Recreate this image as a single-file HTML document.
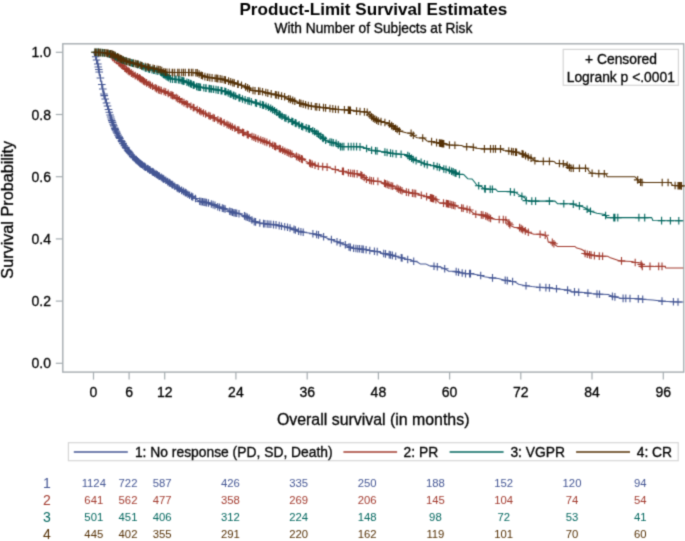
<!DOCTYPE html>
<html><head><meta charset="utf-8"><style>html,body{margin:0;padding:0;background:#fff;width:685px;height:541px;overflow:hidden}svg{display:block}</style></head>
<body><svg width="685" height="541" viewBox="0 0 685 541"><defs><filter id="bl" filterUnits="userSpaceOnUse" x="-10" y="-10" width="705" height="561" color-interpolation-filters="sRGB"><feConvolveMatrix order="3" kernelMatrix="0.02768 0.11101 0.02768 0.11101 0.44521 0.11101 0.02768 0.11101 0.02768" edgeMode="duplicate" preserveAlpha="true"/></filter></defs><g filter="url(#bl)"><rect x="-10" y="-10" width="705" height="561" fill="#fff"/><text x="373.4" y="14.8" font-family="Liberation Sans, sans-serif" font-size="17.1" font-weight="bold" text-anchor="middle" fill="#000">Product-Limit Survival Estimates</text><text x="373.4" y="32.8" font-family="Liberation Sans, sans-serif" font-size="13.75" text-anchor="middle" fill="#000" stroke="#000" stroke-width="0.3">With Number of Subjects at Risk</text><rect x="62.8" y="43.8" width="621.0" height="328.3" fill="none" stroke="#a5acb0" stroke-width="1.4"/><line x1="55.8" x2="62.8" y1="363.3" y2="363.3" stroke="#a5acb0" stroke-width="1.2"/><text x="51" y="368.3" font-family="Liberation Sans, sans-serif" font-size="14" text-anchor="end" fill="#000" stroke="#000" stroke-width="0.3">0.0</text><line x1="55.8" x2="62.8" y1="301.1" y2="301.1" stroke="#a5acb0" stroke-width="1.2"/><text x="51" y="306.1" font-family="Liberation Sans, sans-serif" font-size="14" text-anchor="end" fill="#000" stroke="#000" stroke-width="0.3">0.2</text><line x1="55.8" x2="62.8" y1="238.9" y2="238.9" stroke="#a5acb0" stroke-width="1.2"/><text x="51" y="243.9" font-family="Liberation Sans, sans-serif" font-size="14" text-anchor="end" fill="#000" stroke="#000" stroke-width="0.3">0.4</text><line x1="55.8" x2="62.8" y1="176.7" y2="176.7" stroke="#a5acb0" stroke-width="1.2"/><text x="51" y="181.7" font-family="Liberation Sans, sans-serif" font-size="14" text-anchor="end" fill="#000" stroke="#000" stroke-width="0.3">0.6</text><line x1="55.8" x2="62.8" y1="114.5" y2="114.5" stroke="#a5acb0" stroke-width="1.2"/><text x="51" y="119.5" font-family="Liberation Sans, sans-serif" font-size="14" text-anchor="end" fill="#000" stroke="#000" stroke-width="0.3">0.8</text><line x1="55.8" x2="62.8" y1="52.3" y2="52.3" stroke="#a5acb0" stroke-width="1.2"/><text x="51" y="57.3" font-family="Liberation Sans, sans-serif" font-size="14" text-anchor="end" fill="#000" stroke="#000" stroke-width="0.3">1.0</text><line x1="93.5" x2="93.5" y1="372.1" y2="379.6" stroke="#a5acb0" stroke-width="1.2"/><text x="93.5" y="397.2" font-family="Liberation Sans, sans-serif" font-size="14" text-anchor="middle" fill="#000" stroke="#000" stroke-width="0.3">0</text><line x1="129.1" x2="129.1" y1="372.1" y2="379.6" stroke="#a5acb0" stroke-width="1.2"/><text x="129.1" y="397.2" font-family="Liberation Sans, sans-serif" font-size="14" text-anchor="middle" fill="#000" stroke="#000" stroke-width="0.3">6</text><line x1="164.7" x2="164.7" y1="372.1" y2="379.6" stroke="#a5acb0" stroke-width="1.2"/><text x="164.7" y="397.2" font-family="Liberation Sans, sans-serif" font-size="14" text-anchor="middle" fill="#000" stroke="#000" stroke-width="0.3">12</text><line x1="235.9" x2="235.9" y1="372.1" y2="379.6" stroke="#a5acb0" stroke-width="1.2"/><text x="235.9" y="397.2" font-family="Liberation Sans, sans-serif" font-size="14" text-anchor="middle" fill="#000" stroke="#000" stroke-width="0.3">24</text><line x1="307.2" x2="307.2" y1="372.1" y2="379.6" stroke="#a5acb0" stroke-width="1.2"/><text x="307.2" y="397.2" font-family="Liberation Sans, sans-serif" font-size="14" text-anchor="middle" fill="#000" stroke="#000" stroke-width="0.3">36</text><line x1="378.4" x2="378.4" y1="372.1" y2="379.6" stroke="#a5acb0" stroke-width="1.2"/><text x="378.4" y="397.2" font-family="Liberation Sans, sans-serif" font-size="14" text-anchor="middle" fill="#000" stroke="#000" stroke-width="0.3">48</text><line x1="449.6" x2="449.6" y1="372.1" y2="379.6" stroke="#a5acb0" stroke-width="1.2"/><text x="449.6" y="397.2" font-family="Liberation Sans, sans-serif" font-size="14" text-anchor="middle" fill="#000" stroke="#000" stroke-width="0.3">60</text><line x1="520.8" x2="520.8" y1="372.1" y2="379.6" stroke="#a5acb0" stroke-width="1.2"/><text x="520.8" y="397.2" font-family="Liberation Sans, sans-serif" font-size="14" text-anchor="middle" fill="#000" stroke="#000" stroke-width="0.3">72</text><line x1="592.0" x2="592.0" y1="372.1" y2="379.6" stroke="#a5acb0" stroke-width="1.2"/><text x="592.0" y="397.2" font-family="Liberation Sans, sans-serif" font-size="14" text-anchor="middle" fill="#000" stroke="#000" stroke-width="0.3">84</text><line x1="663.3" x2="663.3" y1="372.1" y2="379.6" stroke="#a5acb0" stroke-width="1.2"/><text x="663.3" y="397.2" font-family="Liberation Sans, sans-serif" font-size="14" text-anchor="middle" fill="#000" stroke="#000" stroke-width="0.3">96</text><text x="373.2" y="425.3" font-family="Liberation Sans, sans-serif" font-size="15.9" text-anchor="middle" fill="#000" stroke="#000" stroke-width="0.3">Overall survival (in months)</text><text transform="translate(12.6,209.8) rotate(-90)" x="0" y="0" font-family="Liberation Sans, sans-serif" font-size="16.2" text-anchor="middle" fill="#000" stroke="#000" stroke-width="0.3">Survival Probability</text><rect x="563.2" y="49.4" width="115.2" height="35.9" fill="#fff" stroke="#d4d4d4" stroke-width="1.2"/><text x="621" y="64" font-family="Liberation Sans, sans-serif" font-size="13.85" text-anchor="middle" fill="#000" stroke="#000" stroke-width="0.3">+ Censored</text><text x="620.8" y="81.7" font-family="Liberation Sans, sans-serif" font-size="13.85" text-anchor="middle" fill="#000" stroke="#000" stroke-width="0.3">Logrank p &lt;.0001</text><polyline points="93.5,52.2 94.6,55.0 95.6,56.5 97.9,64.5 99.6,74.3 101.9,84.9 103.6,93.0 105.5,100.0 107.4,105.5 109.2,112.0 111.1,118.5 113.4,125.0 115.7,130.5 118.5,136.0 120.5,139.5 124.2,145.5 128.9,152.0 133.5,157.3 140.0,163.3 146.4,167.8 153.8,172.6 160.0,176.6 167.7,181.6 177.0,187.8 186.2,193.0 190.0,195.6 194.6,197.9 199.2,201.2 203.9,202.1 208.5,203.0 214.0,204.9 218.7,207.2 224.2,208.6 228.8,210.9 233.4,212.7 239.0,213.7 243.6,215.5 249.6,218.4 254.2,221.6 259.8,223.0 265.3,223.9 271.8,224.4 276.4,224.9 282.0,226.3 287.5,227.2 293.1,229.0 298.6,231.3 304.2,232.4 309.2,232.9 312.9,233.8 318.5,234.9 324.0,236.8 327.7,238.5 331.4,239.6 335.1,240.9 339.7,242.8 344.4,244.2 349.0,247.0 353.6,248.3 360.5,248.9 366.1,249.8 371.6,250.9 377.2,251.6 382.7,253.3 388.3,254.4 393.8,255.8 399.4,257.2 404.9,258.8 410.5,260.1 413.7,261.3 417.4,262.0 420.2,263.9 425.7,263.9 429.4,265.7 434.0,266.2 440.5,267.1 445.1,268.9 448.8,271.3 455.3,271.3 459.9,272.6 465.5,273.6 470.5,273.6 474.2,274.2 479.8,275.2 484.4,276.8 492.7,277.9 498.3,278.5 503.8,280.0 509.4,280.9 514.9,281.9 518.6,284.2 525.5,285.7 532.0,286.6 539.4,287.4 547.7,287.6 553.3,288.5 560.7,289.2 567.1,289.9 571.8,291.7 580.0,292.4 584.2,292.6 590.7,293.5 596.3,294.0 608.3,294.6 612.0,296.3 616.6,297.2 620.3,298.3 635.0,298.6 645.0,299.5 652.6,300.0 663.1,301.2 677.1,302.0 683.3,302.0" fill="none" stroke="#445694" stroke-width="1.05" stroke-linejoin="round"/><path d="M109.9 125.7h7.6M113.7 121.9v7.6M110.9 128.1h7.6M114.7 124.3v7.6M111.4 129.3h7.6M115.2 125.5v7.6M111.8 130.3h7.6M115.6 126.5v7.6M112.6 131.9h7.6M116.4 128.1v7.6M113.3 133.2h7.6M117.1 129.4v7.6M114.2 135.1h7.6M118.0 131.3v7.6M115.1 136.7h7.6M118.9 132.9v7.6M115.3 137.1h7.6M119.1 133.3v7.6M116.1 138.4h7.6M119.9 134.6v7.6M117.5 140.8h7.6M121.3 137.0v7.6M118.0 141.6h7.6M121.8 137.8v7.6M119.1 143.4h7.6M122.9 139.6v7.6M119.3 143.8h7.6M123.1 140.0v7.6M120.5 145.7h7.6M124.3 141.9v7.6M121.7 147.3h7.6M125.5 143.5v7.6M122.3 148.1h7.6M126.1 144.3v7.6M123.8 150.2h7.6M127.6 146.4v7.6M124.7 151.4h7.6M128.5 147.6v7.6M125.0 151.8h7.6M128.8 148.0v7.6M125.9 152.9h7.6M129.7 149.1v7.6M127.4 154.7h7.6M131.2 150.8v7.6M128.9 156.4h7.6M132.7 152.6v7.6M129.4 156.9h7.6M133.2 153.1v7.6M130.4 158.0h7.6M134.2 154.2v7.6M131.9 159.4h7.6M135.7 155.6v7.6M132.5 159.9h7.6M136.3 156.1v7.6M133.6 160.9h7.6M137.4 157.1v7.6M134.7 161.9h7.6M138.5 158.1v7.6M135.8 163.0h7.6M139.6 159.2v7.6M136.6 163.6h7.6M140.4 159.8v7.6M137.6 164.3h7.6M141.4 160.5v7.6M138.7 165.0h7.6M142.5 161.2v7.6M140.1 166.1h7.6M143.9 162.3v7.6M140.9 166.6h7.6M144.7 162.8v7.6M141.8 167.2h7.6M145.6 163.4v7.6M143.7 168.5h7.6M147.5 164.7v7.6M144.5 169.0h7.6M148.3 165.2v7.6M145.8 169.9h7.6M149.6 166.1v7.6M146.4 170.3h7.6M150.2 166.5v7.6M148.3 171.5h7.6M152.1 167.7v7.6M149.2 172.1h7.6M153.0 168.3v7.6M149.6 172.3h7.6M153.4 168.5v7.6M150.9 173.2h7.6M154.7 169.4v7.6M152.4 174.1h7.6M156.2 170.3v7.6M153.6 174.9h7.6M157.4 171.1v7.6M154.9 175.8h7.6M158.7 172.0v7.6M155.6 176.2h7.6M159.4 172.4v7.6M157.5 177.4h7.6M161.3 173.6v7.6M159.0 178.4h7.6M162.8 174.6v7.6M160.0 179.1h7.6M163.8 175.3v7.6M162.0 180.3h7.6M165.8 176.5v7.6M163.9 181.6h7.6M167.7 177.8v7.6M165.4 182.6h7.6M169.2 178.8v7.6M166.4 183.3h7.6M170.2 179.5v7.6M168.1 184.4h7.6M171.9 180.6v7.6M169.0 185.0h7.6M172.8 181.2v7.6M170.9 186.2h7.6M174.7 182.4v7.6M173.2 187.8h7.6M177.0 184.0v7.6M174.3 188.4h7.6M178.1 184.6v7.6M175.6 189.2h7.6M179.4 185.4v7.6M177.8 190.4h7.6M181.6 186.6v7.6M179.6 191.4h7.6M183.4 187.6v7.6M181.3 192.4h7.6M185.1 188.6v7.6M182.4 193.0h7.6M186.2 189.2v7.6M184.1 194.2h7.6M187.9 190.4v7.6M185.8 195.3h7.6M189.6 191.5v7.6M187.8 196.4h7.6M191.6 192.6v7.6M189.0 197.0h7.6M192.8 193.2v7.6M191.7 198.5h7.6M195.5 194.7v7.6M195.9 201.3h7.6M199.7 197.5v7.6M197.3 201.6h7.6M201.1 197.8v7.6M198.7 201.8h7.6M202.5 198.0v7.6M200.1 202.1h7.6M203.9 198.3v7.6M201.4 202.4h7.6M205.2 198.6v7.6M202.8 202.6h7.6M206.6 198.8v7.6M204.7 203.0h7.6M208.5 199.2v7.6M207.5 204.0h7.6M211.3 200.2v7.6M209.3 204.6h7.6M213.1 200.8v7.6M211.2 205.4h7.6M215.0 201.6v7.6M213.9 206.7h7.6M217.7 202.9v7.6M215.8 207.4h7.6M219.6 203.6v7.6M218.5 208.1h7.6M222.3 204.3v7.6M219.9 208.5h7.6M223.7 204.7v7.6M221.3 209.1h7.6M225.1 205.2v7.6M225.9 211.3h7.6M229.7 207.5v7.6M227.3 211.8h7.6M231.1 208.0v7.6M228.7 212.3h7.6M232.5 208.5v7.6M230.1 212.8h7.6M233.9 209.0v7.6M231.5 213.0h7.6M235.3 209.2v7.6M232.9 213.3h7.6M236.7 209.5v7.6M235.2 213.7h7.6M239.0 209.9v7.6M240.7 215.9h7.6M244.5 212.1v7.6M242.1 216.6h7.6M245.9 212.8v7.6M243.5 217.3h7.6M247.3 213.5v7.6M245.4 218.2h7.6M249.2 214.4v7.6M248.1 220.0h7.6M251.9 216.2v7.6M250.4 221.6h7.6M254.2 217.8v7.6M251.8 221.9h7.6M255.6 218.1v7.6M256.0 223.0h7.6M259.8 219.2v7.6M259.7 223.6h7.6M263.5 219.8v7.6M261.1 223.8h7.6M264.9 220.0v7.6M263.4 224.0h7.6M267.2 220.2v7.6M265.2 224.2h7.6M269.0 220.4v7.6M267.1 224.3h7.6M270.9 220.5v7.6M269.7 224.6h7.6M273.5 220.8v7.6M272.2 224.9h7.6M276.0 221.1v7.6M275.4 225.6h7.6M279.2 221.8v7.6M277.7 226.2h7.6M281.5 222.4v7.6M280.9 226.7h7.6M284.7 222.9v7.6M283.7 227.2h7.6M287.5 223.4v7.6M286.2 228.0h7.6M290.0 224.2v7.6M290.2 229.4h7.6M294.0 225.6v7.6M291.6 230.0h7.6M295.4 226.2v7.6M294.8 231.3h7.6M298.6 227.5v7.6M297.1 231.8h7.6M300.9 228.0v7.6M299.4 232.2h7.6M303.2 228.4v7.6M309.1 233.8h7.6M312.9 230.0v7.6M312.8 234.5h7.6M316.6 230.7v7.6M314.7 234.9h7.6M318.5 231.1v7.6M319.8 236.7h7.6M323.6 232.9v7.6M327.6 239.6h7.6M331.4 235.8v7.6M333.2 241.7h7.6M337.0 237.9v7.6M336.4 242.9h7.6M340.2 239.1v7.6M341.5 244.7h7.6M345.3 240.9v7.6M345.2 247.0h7.6M349.0 243.2v7.6M346.6 247.4h7.6M350.4 243.6v7.6M349.8 248.3h7.6M353.6 244.5v7.6M352.1 248.5h7.6M355.9 244.7v7.6M354.0 248.7h7.6M357.8 244.9v7.6M355.8 248.8h7.6M359.6 245.0v7.6M358.1 249.1h7.6M361.9 245.3v7.6M359.5 249.4h7.6M363.3 245.6v7.6M362.3 249.8h7.6M366.1 246.0v7.6M366.0 250.5h7.6M369.8 246.7v7.6M370.6 251.2h7.6M374.4 247.4v7.6M373.4 251.6h7.6M377.2 247.8v7.6M379.9 253.5h7.6M383.7 249.7v7.6M381.7 253.9h7.6M385.5 250.1v7.6M385.4 254.6h7.6M389.2 250.8v7.6M386.8 255.0h7.6M390.6 251.2v7.6M388.6 255.4h7.6M392.4 251.6v7.6M391.9 256.3h7.6M395.7 252.5v7.6M397.4 257.7h7.6M401.2 253.9v7.6M398.3 258.0h7.6M402.1 254.2v7.6M403.9 259.5h7.6M407.7 255.7v7.6M409.9 261.3h7.6M413.7 257.5v7.6M430.2 266.2h7.6M434.0 262.4v7.6M433.5 266.7h7.6M437.3 262.9v7.6M440.9 268.7h7.6M444.7 264.9v7.6M452.4 271.6h7.6M456.2 267.8v7.6M454.7 272.2h7.6M458.5 268.4v7.6M458.4 273.0h7.6M462.2 269.2v7.6M461.7 273.6h7.6M465.5 269.8v7.6M465.8 273.6h7.6M469.6 269.8v7.6M466.7 273.6h7.6M470.5 269.8v7.6M476.9 275.5h7.6M480.7 271.7v7.6M488.7 277.9h7.6M492.5 274.1v7.6M501.4 280.2h7.6M505.2 276.4v7.6M503.5 280.6h7.6M507.3 276.8v7.6M508.8 281.5h7.6M512.6 277.7v7.6M522.2 285.8h7.6M526.0 282.0v7.6M536.1 287.4h7.6M539.9 283.6v7.6M542.1 287.6h7.6M545.9 283.8v7.6M545.6 287.9h7.6M549.4 284.1v7.6M552.7 288.8h7.6M556.5 285.0v7.6M563.8 290.1h7.6M567.6 286.3v7.6M570.7 291.9h7.6M574.5 288.1v7.6M574.9 292.3h7.6M578.7 288.5v7.6M584.1 293.1h7.6M587.9 289.3v7.6M593.2 294.0h7.6M597.0 290.2v7.6M595.7 294.2h7.6M599.5 290.4v7.6M608.6 296.4h7.6M612.4 292.6v7.6M611.1 296.9h7.6M614.9 293.1v7.6M619.3 298.4h7.6M623.1 294.6v7.6M622.0 298.4h7.6M625.8 294.6v7.6M626.2 298.5h7.6M630.0 294.7v7.6M634.5 298.9h7.6M638.3 295.1v7.6M638.9 299.3h7.6M642.7 295.5v7.6M658.2 301.1h7.6M662.0 297.3v7.6M669.6 301.8h7.6M673.4 298.0v7.6M674.2 302.0h7.6M678.0 298.2v7.6M91.9 56.8h7.6M95.7 53.0v7.6M92.8 60.0h7.6M96.6 56.2v7.6M94.0 64.0h7.6M97.8 60.2v7.6M94.5 67.0h7.6M98.3 63.2v7.6M95.0 69.5h7.6M98.8 65.7v7.6M95.4 72.0h7.6M99.2 68.2v7.6M96.6 78.0h7.6M100.4 74.2v7.6M98.0 84.5h7.6M101.8 80.7v7.6M99.0 89.0h7.6M102.8 85.2v7.6M100.1 94.0h7.6M103.9 90.2v7.6M100.5 95.6h7.6M104.3 91.8v7.6M101.4 99.0h7.6M105.2 95.2v7.6M102.7 103.0h7.6M106.5 99.2v7.6M103.7 106.0h7.6M107.5 102.2v7.6M104.7 109.5h7.6M108.5 105.7v7.6M105.5 112.3h7.6M109.3 108.5v7.6M106.3 115.0h7.6M110.1 111.2v7.6M106.9 117.0h7.6M110.7 113.2v7.6M107.5 119.0h7.6M111.3 115.2v7.6M108.0 120.6h7.6M111.8 116.8v7.6M108.7 122.4h7.6M112.5 118.6v7.6M109.4 124.3h7.6M113.2 120.5v7.6M110.0 126.0h7.6M113.8 122.2v7.6" stroke="#445694" stroke-width="1.1" fill="none"/><polyline points="93.5,52.2 104.0,52.7 108.0,54.0 111.0,56.3 115.8,59.8 120.0,63.5 125.0,68.3 130.0,72.2 135.0,75.5 139.3,77.8 143.8,81.2 151.2,85.6 158.6,89.7 165.0,91.8 174.5,96.5 182.2,101.6 189.6,105.6 197.0,109.5 204.4,113.5 211.8,116.9 219.2,120.6 221.4,121.6 233.3,127.5 245.1,133.5 256.9,138.6 268.8,143.1 280.0,148.8 286.6,152.0 293.1,154.8 299.7,158.1 306.3,161.4 311.8,164.1 318.3,166.3 326.0,166.8 332.6,168.7 339.1,170.7 345.7,171.8 350.0,173.2 356.6,173.8 360.9,174.9 366.4,179.2 371.9,180.9 378.5,181.4 383.9,183.1 389.4,185.3 394.9,186.9 399.3,189.6 404.7,191.8 411.3,192.9 417.9,194.0 420.0,194.9 424.4,196.0 429.9,197.6 435.3,199.2 439.7,203.1 444.1,203.1 449.6,204.2 455.0,205.8 459.4,207.4 463.8,208.5 469.3,209.6 473.7,213.5 476.9,214.6 483.5,215.1 487.9,216.8 490.0,218.4 496.1,219.4 505.3,219.6 507.9,221.5 510.4,225.5 514.5,227.4 519.6,227.6 522.7,229.6 526.8,231.7 530.9,233.2 533.9,234.2 541.1,234.2 545.2,235.3 547.2,236.8 548.2,241.9 552.3,242.4 555.4,245.0 557.2,246.4 574.7,246.4 576.9,248.1 581.3,249.2 584.0,250.8 585.1,253.5 590.0,255.0 598.8,256.1 607.6,256.3 609.7,257.4 614.1,259.0 618.5,260.5 620.9,260.9 631.9,261.4 635.2,262.5 640.7,262.7 641.8,266.4 664.7,266.4 665.8,268.0 683.3,268.0" fill="none" stroke="#A23A2E" stroke-width="1.05" stroke-linejoin="round"/><path d="M108.9 57.5h7.6M112.7 53.7v7.6M110.5 58.7h7.6M114.3 54.9v7.6M111.0 59.0h7.6M114.8 55.2v7.6M112.6 60.3h7.6M116.4 56.5v7.6M115.2 62.7h7.6M119.0 58.9v7.6M116.6 63.9h7.6M120.4 60.1v7.6M118.1 65.3h7.6M121.9 61.5v7.6M119.2 66.3h7.6M123.0 62.5v7.6M121.0 68.1h7.6M124.8 64.3v7.6M122.6 69.4h7.6M126.4 65.6v7.6M124.2 70.6h7.6M128.0 66.8v7.6M125.4 71.6h7.6M129.2 67.8v7.6M127.5 73.1h7.6M131.3 69.3v7.6M129.2 74.2h7.6M133.0 70.4v7.6M131.4 75.6h7.6M135.2 71.8v7.6M133.7 76.8h7.6M137.5 73.0v7.6M135.5 77.8h7.6M139.3 74.0v7.6M136.5 78.6h7.6M140.3 74.8v7.6M138.2 79.8h7.6M142.0 76.0v7.6M139.6 80.9h7.6M143.4 77.1v7.6M140.9 81.7h7.6M144.7 77.9v7.6M142.8 82.9h7.6M146.6 79.1v7.6M145.2 84.3h7.6M149.0 80.5v7.6M146.7 85.2h7.6M150.5 81.4v7.6M148.7 86.3h7.6M152.5 82.5v7.6M151.4 87.8h7.6M155.2 84.0v7.6M152.8 88.6h7.6M156.6 84.8v7.6M154.6 89.6h7.6M158.4 85.8v7.6M156.0 90.1h7.6M159.8 86.3v7.6M157.5 90.6h7.6M161.3 86.8v7.6M160.2 91.5h7.6M164.0 87.7v7.6M161.9 92.1h7.6M165.7 88.3v7.6M164.4 93.4h7.6M168.2 89.6v7.6M167.1 94.7h7.6M170.9 90.9v7.6M168.4 95.4h7.6M172.2 91.6v7.6M169.3 95.8h7.6M173.1 92.0v7.6M172.4 97.6h7.6M176.2 93.8v7.6M173.9 98.6h7.6M177.7 94.8v7.6M175.6 99.8h7.6M179.4 96.0v7.6M178.2 101.5h7.6M182.0 97.7v7.6M180.2 102.6h7.6M184.0 98.8v7.6M182.4 103.8h7.6M186.2 100.0v7.6M183.8 104.5h7.6M187.6 100.7v7.6M187.1 106.3h7.6M190.9 102.5v7.6M189.4 107.5h7.6M193.2 103.7v7.6M190.1 107.8h7.6M193.9 104.0v7.6M193.4 109.6h7.6M197.2 105.8v7.6M195.7 110.8h7.6M199.5 107.0v7.6M197.2 111.7h7.6M201.0 107.9v7.6M199.7 113.0h7.6M203.5 109.2v7.6M201.8 114.0h7.6M205.6 110.2v7.6M205.0 115.5h7.6M208.8 111.7v7.6M206.4 116.2h7.6M210.2 112.4v7.6M209.3 117.6h7.6M213.1 113.8v7.6M210.7 118.2h7.6M214.5 114.4v7.6M214.1 119.9h7.6M217.9 116.1v7.6M216.4 121.0h7.6M220.2 117.2v7.6M217.6 121.6h7.6M221.4 117.8v7.6M220.3 122.9h7.6M224.1 119.1v7.6M223.2 124.4h7.6M227.0 120.6v7.6M225.0 125.3h7.6M228.8 121.5v7.6M226.8 126.2h7.6M230.6 122.4v7.6M228.6 127.1h7.6M232.4 123.3v7.6M231.1 128.3h7.6M234.9 124.5v7.6M234.0 129.8h7.6M237.8 126.0v7.6M235.2 130.4h7.6M239.0 126.6v7.6M238.8 132.2h7.6M242.6 128.4v7.6M239.9 132.8h7.6M243.7 129.0v7.6M243.4 134.4h7.6M247.2 130.6v7.6M244.5 134.9h7.6M248.3 131.1v7.6M248.2 136.5h7.6M252.0 132.7v7.6M250.1 137.3h7.6M253.9 133.5v7.6M251.9 138.1h7.6M255.7 134.3v7.6M254.3 139.0h7.6M258.1 135.2v7.6M256.9 140.0h7.6M260.7 136.2v7.6M259.1 140.8h7.6M262.9 137.0v7.6M261.0 141.6h7.6M264.8 137.8v7.6M263.1 142.4h7.6M266.9 138.6v7.6M265.9 143.6h7.6M269.7 139.8v7.6M269.0 145.2h7.6M272.8 141.4v7.6M270.8 146.1h7.6M274.6 142.3v7.6M271.9 146.6h7.6M275.7 142.8v7.6M275.5 148.5h7.6M279.3 144.7v7.6M276.7 149.0h7.6M280.5 145.2v7.6M278.9 150.1h7.6M282.7 146.3v7.6M281.1 151.2h7.6M284.9 147.4v7.6M283.3 152.2h7.6M287.1 148.4v7.6M285.0 152.9h7.6M288.8 149.1v7.6M286.6 153.6h7.6M290.4 149.8v7.6M288.2 154.3h7.6M292.0 150.5v7.6M292.6 156.4h7.6M296.4 152.6v7.6M294.3 157.3h7.6M298.1 153.5v7.6M295.9 158.1h7.6M299.7 154.3v7.6M297.6 158.9h7.6M301.4 155.1v7.6M298.6 159.4h7.6M302.4 155.6v7.6M305.8 163.0h7.6M309.6 159.2v7.6M306.9 163.6h7.6M310.7 159.8v7.6M308.5 164.3h7.6M312.3 160.5v7.6M311.2 165.2h7.6M315.0 161.4v7.6M314.5 166.3h7.6M318.3 162.5v7.6M318.9 166.6h7.6M322.7 162.8v7.6M323.3 167.1h7.6M327.1 163.3v7.6M331.5 169.5h7.6M335.3 165.7v7.6M338.6 171.2h7.6M342.4 167.4v7.6M339.7 171.4h7.6M343.5 167.6v7.6M344.6 172.7h7.6M348.4 168.9v7.6M346.8 173.3h7.6M350.6 169.5v7.6M349.0 173.5h7.6M352.8 169.7v7.6M350.6 173.6h7.6M354.4 169.8v7.6M353.3 173.9h7.6M357.1 170.1v7.6M357.1 174.9h7.6M360.9 171.1v7.6M358.2 175.8h7.6M362.0 172.0v7.6M360.4 177.5h7.6M364.2 173.7v7.6M362.6 179.2h7.6M366.4 175.4v7.6M365.9 180.2h7.6M369.7 176.4v7.6M367.6 180.7h7.6M371.4 176.9v7.6M369.7 181.0h7.6M373.5 177.2v7.6M374.1 181.4h7.6M377.9 177.6v7.6M380.7 183.3h7.6M384.5 179.5v7.6M381.8 183.8h7.6M385.6 180.0v7.6M383.4 184.4h7.6M387.2 180.6v7.6M385.1 185.1h7.6M388.9 181.3v7.6M387.3 185.8h7.6M391.1 182.0v7.6M388.9 186.3h7.6M392.7 182.5v7.6M393.3 188.3h7.6M397.1 184.5v7.6M394.9 189.2h7.6M398.7 185.4v7.6M396.6 190.0h7.6M400.4 186.2v7.6M398.2 190.7h7.6M402.0 186.9v7.6M402.6 192.1h7.6M406.4 188.3v7.6M404.8 192.5h7.6M408.6 188.7v7.6M408.6 193.1h7.6M412.4 189.3v7.6M410.3 193.4h7.6M414.1 189.6v7.6M411.9 193.6h7.6M415.7 189.8v7.6M417.5 195.2h7.6M421.3 191.4v7.6M422.8 196.6h7.6M426.6 192.8v7.6M426.6 197.7h7.6M430.4 193.9v7.6M427.7 198.1h7.6M431.5 194.3v7.6M428.8 198.4h7.6M432.6 194.6v7.6M429.9 198.7h7.6M433.7 194.9v7.6M432.1 199.7h7.6M435.9 195.9v7.6M439.7 203.1h7.6M443.5 199.3v7.6M442.5 203.5h7.6M446.3 199.7v7.6M443.6 203.8h7.6M447.4 200.0v7.6M444.7 204.0h7.6M448.5 200.2v7.6M446.3 204.3h7.6M450.1 200.5v7.6M448.0 204.9h7.6M451.8 201.1v7.6M449.6 205.3h7.6M453.4 201.5v7.6M451.2 205.8h7.6M455.0 202.0v7.6M457.8 208.0h7.6M461.6 204.2v7.6M459.4 208.3h7.6M463.2 204.5v7.6M463.3 209.2h7.6M467.1 205.4v7.6M466.0 210.0h7.6M469.8 206.2v7.6M472.0 214.2h7.6M475.8 210.4v7.6M477.5 214.9h7.6M481.3 211.1v7.6M479.2 215.1h7.6M483.0 211.3v7.6M481.9 215.9h7.6M485.7 212.1v7.6M483.5 216.6h7.6M487.3 212.8v7.6M485.2 217.6h7.6M489.0 213.8v7.6M486.8 218.5h7.6M490.6 214.7v7.6M495.4 219.5h7.6M499.2 215.7v7.6M499.5 219.6h7.6M503.3 215.8v7.6M502.0 220.0h7.6M505.8 216.2v7.6M505.1 223.1h7.6M508.9 219.3v7.6M506.1 224.7h7.6M509.9 220.9v7.6M515.8 227.6h7.6M519.6 223.8v7.6M517.4 228.6h7.6M521.2 224.8v7.6M518.9 229.6h7.6M522.7 225.8v7.6M521.5 230.9h7.6M525.3 227.1v7.6M524.5 232.2h7.6M528.3 228.4v7.6M536.3 234.2h7.6M540.1 230.4v7.6M541.4 235.3h7.6M545.2 231.5v7.6M548.5 242.4h7.6M552.3 238.6v7.6M550.1 243.7h7.6M553.9 239.9v7.6M581.3 253.5h7.6M585.1 249.7v7.6M583.5 254.2h7.6M587.3 250.4v7.6M585.7 254.8h7.6M589.5 251.0v7.6M587.3 255.1h7.6M591.1 251.3v7.6M590.6 255.6h7.6M594.4 251.8v7.6M595.5 256.1h7.6M599.3 252.3v7.6M598.8 256.2h7.6M602.6 252.4v7.6M617.7 260.9h7.6M621.5 257.1v7.6M631.4 262.5h7.6M635.2 258.7v7.6M637.4 264.4h7.6M641.2 260.6v7.6M638.5 266.4h7.6M642.3 262.6v7.6M646.2 266.4h7.6M650.0 262.6v7.6M654.9 266.4h7.6M658.7 262.6v7.6M658.2 266.4h7.6M662.0 262.6v7.6" stroke="#A23A2E" stroke-width="1.1" fill="none"/><polyline points="93.5,52.2 102.7,52.6 112.0,54.5 116.0,56.8 120.0,59.0 125.0,60.9 130.0,62.5 139.3,65.0 146.6,68.3 160.5,72.0 165.0,75.5 170.5,78.9 178.9,79.6 188.1,82.6 197.3,86.8 206.6,88.2 215.8,89.6 225.0,91.4 231.7,94.6 243.9,99.6 254.2,102.5 264.6,105.5 270.0,108.0 275.5,111.3 282.0,116.3 288.5,119.6 295.0,122.8 302.3,126.5 308.8,128.8 314.4,131.6 319.9,135.3 325.0,140.0 330.5,142.2 336.1,143.3 340.5,146.6 358.3,146.6 365.0,147.7 369.4,149.9 377.1,151.0 384.9,152.1 391.6,153.3 395.0,153.8 401.7,154.4 406.1,154.4 409.4,156.6 413.9,159.9 419.4,161.6 426.1,164.4 431.6,165.3 437.2,166.6 442.7,168.8 448.3,169.9 453.8,172.1 458.2,174.4 463.8,174.6 467.7,178.7 472.1,179.0 474.9,182.5 477.0,185.3 481.4,186.4 483.6,188.5 486.9,189.3 495.7,189.3 497.8,191.5 508.8,191.5 515.4,192.4 518.7,194.6 521.9,196.2 524.7,197.8 526.3,200.6 530.7,201.1 555.0,201.1 557.7,203.8 572.7,203.8 576.1,205.5 580.5,206.0 584.9,207.7 589.5,211.0 596.9,213.2 605.0,214.5 606.8,217.6 651.7,217.6 652.9,220.5 683.3,220.8" fill="none" stroke="#01665E" stroke-width="1.05" stroke-linejoin="round"/><path d="M91.2 52.3h7.6M95.0 48.5v7.6M93.3 52.4h7.6M97.1 48.6v7.6M94.8 52.4h7.6M98.6 48.6v7.6M96.6 52.5h7.6M100.4 48.7v7.6M98.4 52.6h7.6M102.2 48.8v7.6M99.2 52.7h7.6M103.0 48.9v7.6M100.7 53.0h7.6M104.5 49.2v7.6M103.4 53.5h7.6M107.2 49.7v7.6M104.2 53.7h7.6M108.0 49.9v7.6M105.7 54.0h7.6M109.5 50.2v7.6M108.4 54.6h7.6M112.2 50.8v7.6M109.1 55.0h7.6M112.9 51.2v7.6M110.9 56.0h7.6M114.7 52.2v7.6M112.0 56.7h7.6M115.8 52.9v7.6M113.5 57.5h7.6M117.3 53.7v7.6M114.2 57.9h7.6M118.0 54.1v7.6M116.4 59.1h7.6M120.2 55.3v7.6M118.1 59.7h7.6M121.9 55.9v7.6M119.3 60.2h7.6M123.1 56.4v7.6M121.0 60.8h7.6M124.8 57.0v7.6M122.5 61.3h7.6M126.2 57.5v7.6M123.2 61.5h7.6M127.0 57.7v7.6M125.7 62.3h7.6M129.5 58.5v7.6M127.4 62.8h7.6M131.2 59.0v7.6M128.6 63.2h7.6M132.4 59.4v7.6M129.9 63.5h7.6M133.7 59.7v7.6M133.1 64.3h7.6M136.9 60.5v7.6M134.0 64.6h7.6M137.8 60.8v7.6M136.2 65.3h7.6M140.0 61.5v7.6M138.0 66.1h7.6M141.8 62.3v7.6M139.4 66.8h7.6M143.2 63.0v7.6M141.4 67.7h7.6M145.2 63.9v7.6M142.3 68.1h7.6M146.1 64.3v7.6M144.5 68.8h7.6M148.3 65.0v7.6M145.7 69.1h7.6M149.5 65.3v7.6M148.2 69.7h7.6M152.0 65.9v7.6M149.9 70.2h7.6M153.7 66.4v7.6M150.4 70.3h7.6M154.2 66.5v7.6M152.3 70.8h7.6M156.1 67.0v7.6M154.0 71.3h7.6M157.8 67.5v7.6M156.9 72.2h7.6M160.7 68.4v7.6M157.7 72.8h7.6M161.5 69.0v7.6M159.4 74.1h7.6M163.2 70.3v7.6M160.4 74.9h7.6M164.2 71.1v7.6M162.1 76.0h7.6M165.9 72.2v7.6M163.4 76.9h7.6M167.2 73.1v7.6M164.9 77.8h7.6M168.7 74.0v7.6M166.7 78.9h7.6M170.5 75.1v7.6M168.7 79.1h7.6M172.5 75.3v7.6M171.0 79.3h7.6M174.8 75.5v7.6M172.3 79.4h7.6M176.1 75.6v7.6M174.6 79.6h7.6M178.4 75.8v7.6M176.1 79.9h7.6M179.9 76.1v7.6M178.0 80.5h7.6M181.8 76.7v7.6M179.2 80.9h7.6M183.0 77.1v7.6M180.2 81.3h7.6M184.0 77.5v7.6M183.1 82.2h7.6M186.9 78.4v7.6M184.8 82.8h7.6M188.6 79.0v7.6M186.4 83.5h7.6M190.2 79.7v7.6M187.5 84.1h7.6M191.3 80.3v7.6M189.4 84.9h7.6M193.2 81.1v7.6M190.3 85.3h7.6M194.1 81.5v7.6M192.8 86.5h7.6M196.6 82.7v7.6M194.3 86.9h7.6M198.1 83.1v7.6M195.5 87.1h7.6M199.3 83.3v7.6M196.8 87.3h7.6M200.6 83.5v7.6M200.0 87.8h7.6M203.8 84.0v7.6M202.0 88.1h7.6M205.8 84.3v7.6M202.3 88.1h7.6M206.1 84.3v7.6M205.3 88.6h7.6M209.1 84.8v7.6M206.3 88.7h7.6M210.1 84.9v7.6M207.8 89.0h7.6M211.6 85.2v7.6M209.8 89.3h7.6M213.6 85.5v7.6M212.2 89.6h7.6M216.0 85.8v7.6M214.2 90.0h7.6M218.0 86.2v7.6M214.5 90.1h7.6M218.3 86.3v7.6M217.2 90.6h7.6M221.0 86.8v7.6M218.2 90.8h7.6M222.0 87.0v7.6M221.0 91.4h7.6M224.8 87.6v7.6M222.1 91.8h7.6M225.9 88.0v7.6M224.4 92.9h7.6M228.2 89.1v7.6M226.3 93.8h7.6M230.1 90.0v7.6M227.2 94.3h7.6M231.0 90.5v7.6M229.5 95.3h7.6M233.3 91.5v7.6M230.2 95.6h7.6M234.0 91.8v7.6M231.9 96.2h7.6M235.7 92.4v7.6M235.2 97.6h7.6M239.0 93.8v7.6M236.1 98.0h7.6M239.9 94.2v7.6M238.7 99.0h7.6M242.5 95.2v7.6M241.3 99.9h7.6M245.1 96.1v7.6M244.0 100.7h7.6M247.8 96.9v7.6M245.5 101.1h7.6M249.3 97.3v7.6M247.5 101.7h7.6M251.3 97.9v7.6M251.6 102.8h7.6M255.4 99.0v7.6M252.8 103.2h7.6M256.6 99.4v7.6M256.4 104.2h7.6M260.2 100.4v7.6M258.6 104.9h7.6M262.4 101.1v7.6M259.8 105.2h7.6M263.6 101.4v7.6M262.2 106.2h7.6M266.0 102.4v7.6M264.6 107.2h7.6M268.4 103.4v7.6M266.9 108.4h7.6M270.7 104.6v7.6M268.8 109.6h7.6M272.6 105.8v7.6M270.8 110.8h7.6M274.6 107.0v7.6M272.9 112.2h7.6M276.7 108.4v7.6M275.4 114.1h7.6M279.2 110.3v7.6M276.4 114.9h7.6M280.2 111.1v7.6M278.2 116.3h7.6M282.0 112.5v7.6M280.9 117.7h7.6M284.7 113.9v7.6M282.2 118.3h7.6M286.0 114.5v7.6M284.5 119.5h7.6M288.3 115.7v7.6M287.9 121.2h7.6M291.8 117.4v7.6M289.1 121.8h7.6M292.9 118.0v7.6M291.4 122.9h7.6M295.2 119.1v7.6M292.3 123.4h7.6M296.1 119.6v7.6M295.3 124.9h7.6M299.1 121.1v7.6M297.8 126.2h7.6M301.6 122.4v7.6M299.0 126.7h7.6M302.8 122.9v7.6M302.4 127.9h7.6M306.2 124.1v7.6M304.5 128.6h7.6M308.3 124.8v7.6M305.7 129.1h7.6M309.5 125.3v7.6M309.0 130.8h7.6M312.8 127.0v7.6M310.8 131.7h7.6M314.6 127.9v7.6M313.1 133.3h7.6M316.9 129.5v7.6M314.6 134.3h7.6M318.4 130.5v7.6M317.0 136.2h7.6M320.8 132.4v7.6M318.9 137.9h7.6M322.7 134.1v7.6M319.5 138.4h7.6M323.3 134.6v7.6M321.8 140.2h7.6M325.6 136.4v7.6M326.2 142.0h7.6M330.0 138.2v7.6M327.9 142.4h7.6M331.7 138.6v7.6M329.5 142.8h7.6M333.3 138.9v7.6M332.3 143.3h7.6M336.1 139.5v7.6M334.5 144.9h7.6M338.3 141.1v7.6M336.7 146.6h7.6M340.5 142.8v7.6M338.4 146.6h7.6M342.2 142.8v7.6M340.1 146.6h7.6M343.9 142.8v7.6M344.5 146.6h7.6M348.3 142.8v7.6M347.3 146.6h7.6M351.1 142.8v7.6M350.0 146.6h7.6M353.8 142.8v7.6M352.8 146.6h7.6M356.6 142.8v7.6M356.2 146.9h7.6M360.0 143.1v7.6M362.8 148.5h7.6M366.6 144.7v7.6M367.8 150.2h7.6M371.6 146.4v7.6M371.7 150.8h7.6M375.5 147.0v7.6M373.3 151.0h7.6M377.1 147.2v7.6M381.1 152.1h7.6M384.9 148.3v7.6M383.3 152.5h7.6M387.1 148.7v7.6M386.7 153.1h7.6M390.5 149.3v7.6M388.9 153.5h7.6M392.7 149.7v7.6M392.3 153.9h7.6M396.1 150.1v7.6M397.3 154.3h7.6M401.1 150.5v7.6M404.0 155.5h7.6M407.8 151.7v7.6M405.6 156.6h7.6M409.4 152.8v7.6M407.8 158.2h7.6M411.6 154.4v7.6M409.5 159.5h7.6M413.3 155.7v7.6M412.3 160.6h7.6M416.1 156.8v7.6M417.3 162.3h7.6M421.1 158.5v7.6M420.6 163.7h7.6M424.4 159.9v7.6M423.4 164.6h7.6M427.2 160.8v7.6M430.0 165.8h7.6M433.8 162.0v7.6M433.4 166.6h7.6M437.2 162.8v7.6M435.6 167.5h7.6M439.4 163.7v7.6M440.0 169.0h7.6M443.8 165.2v7.6M442.2 169.4h7.6M446.0 165.6v7.6M445.6 170.3h7.6M449.4 166.5v7.6M447.8 171.2h7.6M451.6 167.4v7.6M449.4 171.9h7.6M453.2 168.1v7.6M451.1 172.7h7.6M454.9 168.9v7.6M452.2 173.2h7.6M456.0 169.4v7.6M455.6 174.4h7.6M459.4 170.6v7.6M474.9 185.7h7.6M478.7 181.9v7.6M480.9 188.8h7.6M484.7 185.0v7.6M481.5 188.9h7.6M485.3 185.1v7.6M486.4 189.3h7.6M490.2 185.5v7.6M488.6 189.3h7.6M492.4 185.5v7.6M506.6 191.7h7.6M510.4 187.9v7.6M510.5 192.2h7.6M514.3 188.4v7.6M518.1 196.2h7.6M521.9 192.4v7.6M522.5 200.6h7.6M526.3 196.8v7.6M528.0 201.1h7.6M531.8 197.3v7.6M531.8 201.1h7.6M535.6 197.3v7.6M545.6 201.1h7.6M549.4 197.3v7.6M560.0 203.8h7.6M563.8 200.0v7.6M569.5 204.1h7.6M573.3 200.3v7.6M575.6 205.9h7.6M579.4 202.1v7.6M583.3 209.3h7.6M587.1 205.5v7.6M586.7 211.3h7.6M590.5 207.5v7.6M601.8 215.5h7.6M605.6 211.7v7.6M610.0 217.6h7.6M613.8 213.8v7.6M611.1 217.6h7.6M614.9 213.8v7.6M614.0 217.6h7.6M617.8 213.8v7.6M635.1 217.6h7.6M638.9 213.8v7.6M640.9 217.6h7.6M644.7 213.8v7.6M657.8 220.6h7.6M661.6 216.8v7.6M666.6 220.7h7.6M670.4 216.9v7.6M675.0 220.8h7.6M678.8 217.0v7.6" stroke="#01665E" stroke-width="1.1" fill="none"/><polyline points="93.5,52.2 105.0,52.8 112.0,54.0 116.0,56.0 120.0,58.3 125.0,60.8 130.0,62.3 135.0,63.5 139.3,64.6 142.0,65.8 151.2,68.0 160.5,69.9 165.0,72.3 174.2,72.5 183.5,72.5 192.7,72.5 197.3,72.9 202.0,75.7 206.6,77.1 213.1,78.0 220.5,78.9 225.0,79.9 233.8,82.9 242.5,85.5 247.0,87.5 251.3,90.3 260.0,91.3 264.6,92.2 270.0,93.7 277.4,95.1 284.8,96.9 292.2,100.2 300.5,103.4 308.8,105.7 318.1,107.1 325.0,107.8 336.1,109.4 347.2,110.0 356.1,111.1 367.2,112.2 369.4,114.4 372.7,117.8 378.3,121.1 383.8,122.2 389.4,123.9 393.8,127.2 395.0,127.8 399.4,131.1 406.1,132.8 411.1,133.3 415.0,136.6 417.2,137.8 423.8,138.0 427.2,141.1 431.6,141.6 437.2,142.7 444.9,143.9 449.4,145.0 461.6,145.5 464.3,146.8 471.7,146.8 476.1,148.3 483.9,148.9 500.5,148.9 503.8,150.5 509.4,151.1 514.9,152.0 518.3,152.7 522.7,153.9 527.1,156.6 531.6,158.3 533.8,160.0 536.0,161.4 553.9,161.4 556.1,163.3 566.1,163.9 568.3,166.6 570.5,168.3 587.1,168.3 589.4,171.6 591.6,173.3 606.0,173.9 607.1,176.7 634.8,176.7 636.5,178.4 638.9,181.4 641.2,182.5 670.4,182.5 672.7,185.4 683.3,186.0" fill="none" stroke="#543005" stroke-width="1.05" stroke-linejoin="round"/><path d="M91.2 52.3h7.6M95.0 48.5v7.6M92.5 52.3h7.6M96.2 48.5v7.6M94.5 52.4h7.6M98.2 48.6v7.6M95.5 52.5h7.6M99.2 48.7v7.6M97.0 52.6h7.6M100.8 48.8v7.6M99.0 52.7h7.6M102.8 48.9v7.6M101.0 52.8h7.6M104.8 49.0v7.6M102.5 53.0h7.6M106.2 49.2v7.6M103.7 53.2h7.6M107.5 49.4v7.6M104.5 53.4h7.6M108.2 49.6v7.6M106.5 53.7h7.6M110.2 49.9v7.6M107.5 53.9h7.6M111.2 50.1v7.6M108.9 54.4h7.6M112.7 50.6v7.6M110.1 54.9h7.6M113.9 51.1v7.6M111.5 55.6h7.6M115.3 51.8v7.6M113.8 56.9h7.6M117.6 53.1v7.6M114.9 57.5h7.6M118.7 53.7v7.6M116.2 58.3h7.6M120.0 54.5v7.6M117.3 58.9h7.6M121.1 55.1v7.6M118.0 59.2h7.6M121.8 55.4v7.6M119.6 60.0h7.6M123.4 56.2v7.6M121.2 60.8h7.6M125.0 57.0v7.6M122.7 61.2h7.6M126.5 57.5v7.6M124.5 61.8h7.6M128.2 58.0v7.6M126.0 62.2h7.6M129.8 58.4v7.6M126.5 62.4h7.6M130.2 58.6v7.6M129.4 63.1h7.6M133.2 59.3v7.6M131.5 63.6h7.6M135.3 59.8v7.6M133.2 64.0h7.6M137.0 60.2v7.6M134.5 64.3h7.6M138.3 60.5v7.6M137.0 65.3h7.6M140.8 61.5v7.6M138.2 65.8h7.6M142.0 62.0v7.6M141.4 66.6h7.6M145.2 62.8v7.6M143.4 67.0h7.6M147.2 63.2v7.6M144.7 67.3h7.6M148.5 63.5v7.6M146.2 67.7h7.6M150.0 63.9v7.6M149.2 68.4h7.6M153.0 64.6v7.6M150.7 68.7h7.6M154.5 64.9v7.6M153.2 69.2h7.6M157.0 65.4v7.6M154.9 69.5h7.6M158.7 65.7v7.6M156.4 69.8h7.6M160.2 66.0v7.6M158.0 70.6h7.6M161.8 66.8v7.6M160.1 71.7h7.6M163.9 67.9v7.6M161.7 72.3h7.6M165.5 68.5v7.6M163.2 72.3h7.6M167.0 68.5v7.6M165.5 72.4h7.6M169.3 68.6v7.6M168.4 72.5h7.6M172.2 68.7v7.6M168.9 72.5h7.6M172.7 68.7v7.6M170.9 72.5h7.6M174.7 68.7v7.6M173.9 72.5h7.6M177.7 68.7v7.6M175.4 72.5h7.6M179.2 68.7v7.6M177.9 72.5h7.6M181.7 68.7v7.6M179.7 72.5h7.6M183.5 68.7v7.6M181.5 72.5h7.6M185.3 68.7v7.6M184.8 72.5h7.6M188.6 68.7v7.6M185.3 72.5h7.6M189.1 68.7v7.6M187.6 72.5h7.6M191.4 68.7v7.6M189.2 72.5h7.6M193.0 68.7v7.6M192.0 72.8h7.6M195.8 69.0v7.6M193.5 72.9h7.6M197.3 69.1v7.6M195.3 74.0h7.6M199.1 70.2v7.6M197.5 75.3h7.6M201.3 71.5v7.6M198.7 75.8h7.6M202.5 72.0v7.6M201.1 76.6h7.6M204.9 72.8v7.6M203.5 77.2h7.6M207.3 73.4v7.6M204.0 77.3h7.6M207.8 73.5v7.6M206.0 77.5h7.6M209.8 73.8v7.6M208.3 77.9h7.6M212.1 74.1v7.6M211.3 78.2h7.6M215.1 74.4v7.6M212.9 78.4h7.6M216.7 74.6v7.6M214.1 78.6h7.6M217.9 74.8v7.6M216.4 78.9h7.6M220.2 75.1v7.6M218.2 79.2h7.6M222.0 75.4v7.6M220.4 79.7h7.6M224.2 75.9v7.6M221.7 80.1h7.6M225.5 76.3v7.6M224.8 81.1h7.6M228.6 77.3v7.6M226.9 81.8h7.6M230.7 78.0v7.6M229.0 82.6h7.6M232.8 78.8v7.6M230.5 83.0h7.6M234.3 79.2v7.6M233.9 84.1h7.6M237.7 80.3v7.6M234.3 84.2h7.6M238.2 80.4v7.6M237.7 85.2h7.6M241.5 81.4v7.6M241.8 86.9h7.6M245.6 83.1v7.6M243.8 87.9h7.6M247.6 84.1v7.6M245.6 89.0h7.6M249.4 85.2v7.6M249.2 90.5h7.6M253.0 86.7v7.6M251.2 90.7h7.6M255.0 86.9v7.6M254.7 91.1h7.6M258.5 87.3v7.6M256.2 91.3h7.6M260.0 87.5v7.6M258.8 91.8h7.6M262.6 88.0v7.6M262.0 92.5h7.6M265.8 88.7v7.6M264.0 93.1h7.6M267.8 89.3v7.6M267.4 93.9h7.6M271.2 90.1v7.6M271.6 94.7h7.6M275.4 90.9v7.6M272.9 95.0h7.6M276.7 91.2v7.6M274.8 95.4h7.6M278.6 91.6v7.6M277.8 96.1h7.6M281.6 92.3v7.6M280.8 96.8h7.6M284.6 93.0v7.6M284.9 98.7h7.6M288.7 94.9v7.6M286.6 99.4h7.6M290.4 95.6v7.6M288.9 100.4h7.6M292.7 96.6v7.6M291.0 101.2h7.6M294.8 97.4v7.6M295.8 103.0h7.6M299.6 99.2v7.6M297.2 103.5h7.6M301.0 99.7v7.6M299.4 104.1h7.6M303.2 100.3v7.6M301.8 104.8h7.6M305.6 101.0v7.6M304.5 105.6h7.6M308.3 101.8v7.6M307.5 106.1h7.6M311.3 102.3v7.6M311.5 106.7h7.6M315.3 102.9v7.6M313.0 106.9h7.6M316.8 103.1v7.6M315.6 107.2h7.6M319.4 103.4v7.6M319.7 107.6h7.6M323.5 103.8v7.6M321.8 107.9h7.6M325.6 104.1v7.6M326.2 108.5h7.6M330.0 104.7v7.6M329.0 108.9h7.6M332.8 105.1v7.6M331.7 109.3h7.6M335.5 105.5v7.6M334.5 109.5h7.6M338.3 105.7v7.6M340.6 109.8h7.6M344.4 106.0v7.6M344.5 110.1h7.6M348.3 106.3v7.6M345.6 110.3h7.6M349.4 106.5v7.6M346.7 110.4h7.6M350.5 106.6v7.6M352.8 111.1h7.6M356.6 107.3v7.6M356.2 111.5h7.6M360.0 107.7v7.6M360.6 111.9h7.6M364.4 108.1v7.6M363.4 112.2h7.6M367.2 108.4v7.6M366.1 114.9h7.6M369.9 111.1v7.6M367.8 116.7h7.6M371.6 112.9v7.6M369.5 118.2h7.6M373.3 114.4v7.6M371.1 119.1h7.6M374.9 115.3v7.6M372.8 120.1h7.6M376.6 116.3v7.6M374.5 121.1h7.6M378.3 117.3v7.6M377.2 121.6h7.6M381.0 117.8v7.6M381.1 122.5h7.6M384.9 118.7v7.6M385.6 123.9h7.6M389.4 120.1v7.6M387.8 125.6h7.6M391.6 121.8v7.6M389.4 126.7h7.6M393.2 122.9v7.6M391.8 128.3h7.6M395.6 124.5v7.6M393.4 129.4h7.6M397.2 125.6v7.6M395.6 131.1h7.6M399.4 127.3v7.6M407.3 133.3h7.6M411.1 129.5v7.6M409.5 135.2h7.6M413.3 131.4v7.6M418.9 138.0h7.6M422.7 134.2v7.6M427.8 141.6h7.6M431.6 137.8v7.6M432.8 142.6h7.6M436.6 138.8v7.6M435.6 143.0h7.6M439.4 139.2v7.6M436.7 143.2h7.6M440.5 139.4v7.6M437.8 143.4h7.6M441.6 139.6v7.6M438.9 143.6h7.6M442.7 139.8v7.6M440.0 143.7h7.6M443.8 139.9v7.6M445.6 145.0h7.6M449.4 141.2v7.6M451.1 145.2h7.6M454.9 141.4v7.6M462.9 146.8h7.6M466.7 143.0v7.6M469.5 147.3h7.6M473.3 143.5v7.6M480.6 148.9h7.6M484.4 145.1v7.6M486.7 148.9h7.6M490.5 145.1v7.6M489.5 148.9h7.6M493.3 145.1v7.6M491.7 148.9h7.6M495.5 145.1v7.6M496.7 148.9h7.6M500.5 145.1v7.6M505.0 151.0h7.6M508.8 147.2v7.6M507.8 151.5h7.6M511.6 147.7v7.6M509.5 151.7h7.6M513.3 147.9v7.6M511.7 152.1h7.6M515.5 148.3v7.6M512.8 152.3h7.6M516.6 148.5v7.6M518.3 153.7h7.6M522.1 149.9v7.6M519.4 154.2h7.6M523.2 150.4v7.6M521.7 155.6h7.6M525.5 151.8v7.6M524.4 157.0h7.6M528.2 153.2v7.6M527.2 158.1h7.6M531.0 154.3v7.6M531.1 160.7h7.6M534.9 156.9v7.6M539.5 161.4h7.6M543.3 157.6v7.6M545.6 161.4h7.6M549.4 157.6v7.6M555.6 163.5h7.6M559.4 159.7v7.6M559.5 163.7h7.6M563.3 159.9v7.6M563.4 165.3h7.6M567.2 161.5v7.6M565.6 167.4h7.6M569.4 163.6v7.6M567.3 168.3h7.6M571.1 164.5v7.6M569.5 168.3h7.6M573.3 164.5v7.6M575.6 168.3h7.6M579.4 164.5v7.6M581.7 168.3h7.6M585.5 164.5v7.6M588.3 173.3h7.6M592.1 169.5v7.6M595.0 173.6h7.6M598.8 169.8v7.6M600.5 173.8h7.6M604.3 170.0v7.6M633.9 179.9h7.6M637.7 176.1v7.6M636.8 182.2h7.6M640.6 178.4v7.6M638.3 182.5h7.6M642.1 178.7v7.6M658.4 182.5h7.6M662.2 178.7v7.6M664.3 182.5h7.6M668.1 178.7v7.6M671.3 185.5h7.6M675.1 181.7v7.6M674.2 185.7h7.6M678.0 181.9v7.6M675.4 185.8h7.6M679.2 182.0v7.6M676.5 185.8h7.6M680.3 182.0v7.6M677.7 185.9h7.6M681.5 182.1v7.6" stroke="#543005" stroke-width="1.1" fill="none"/><rect x="68.4" y="442.7" width="609.8" height="18" fill="none" stroke="#d6d6d6" stroke-width="1.2"/><line x1="73.8" x2="127.8" y1="451.9" y2="451.9" stroke="#445694" stroke-width="1.5"/><text x="134.89999999999998" y="456.5" font-family="Liberation Sans, sans-serif" font-size="13.85" fill="#000" stroke="#000" stroke-width="0.3">1: No response (PD, SD, Death)</text><line x1="343.4" x2="397.1" y1="451.9" y2="451.9" stroke="#A23A2E" stroke-width="1.5"/><text x="403.59999999999997" y="456.5" font-family="Liberation Sans, sans-serif" font-size="13.85" fill="#000" stroke="#000" stroke-width="0.3">2: PR</text><line x1="449.6" x2="503.6" y1="451.9" y2="451.9" stroke="#01665E" stroke-width="1.5"/><text x="510.4" y="456.5" font-family="Liberation Sans, sans-serif" font-size="13.85" fill="#000" stroke="#000" stroke-width="0.3">3: VGPR</text><line x1="576.1" x2="630" y1="451.9" y2="451.9" stroke="#543005" stroke-width="1.5"/><text x="636.7" y="456.5" font-family="Liberation Sans, sans-serif" font-size="13.85" fill="#000" stroke="#000" stroke-width="0.3">4: CR</text><text x="47" y="487.5" font-family="Liberation Sans, sans-serif" font-size="14" text-anchor="middle" fill="#445694">1</text><text x="93.8" y="486.5" font-family="Liberation Sans, sans-serif" font-size="11.3" text-anchor="middle" fill="#445694">1124</text><text x="128.0" y="486.5" font-family="Liberation Sans, sans-serif" font-size="11.3" text-anchor="middle" fill="#445694">722</text><text x="162.1" y="486.5" font-family="Liberation Sans, sans-serif" font-size="11.3" text-anchor="middle" fill="#445694">587</text><text x="230.4" y="486.5" font-family="Liberation Sans, sans-serif" font-size="11.3" text-anchor="middle" fill="#445694">426</text><text x="298.7" y="486.5" font-family="Liberation Sans, sans-serif" font-size="11.3" text-anchor="middle" fill="#445694">335</text><text x="367.1" y="486.5" font-family="Liberation Sans, sans-serif" font-size="11.3" text-anchor="middle" fill="#445694">250</text><text x="435.4" y="486.5" font-family="Liberation Sans, sans-serif" font-size="11.3" text-anchor="middle" fill="#445694">188</text><text x="503.7" y="486.5" font-family="Liberation Sans, sans-serif" font-size="11.3" text-anchor="middle" fill="#445694">152</text><text x="572.0" y="486.5" font-family="Liberation Sans, sans-serif" font-size="11.3" text-anchor="middle" fill="#445694">120</text><text x="640.3" y="486.5" font-family="Liberation Sans, sans-serif" font-size="11.3" text-anchor="middle" fill="#445694">94</text><text x="47" y="504.7" font-family="Liberation Sans, sans-serif" font-size="14" text-anchor="middle" fill="#A23A2E">2</text><text x="93.8" y="503.7" font-family="Liberation Sans, sans-serif" font-size="11.3" text-anchor="middle" fill="#A23A2E">641</text><text x="128.0" y="503.7" font-family="Liberation Sans, sans-serif" font-size="11.3" text-anchor="middle" fill="#A23A2E">562</text><text x="162.1" y="503.7" font-family="Liberation Sans, sans-serif" font-size="11.3" text-anchor="middle" fill="#A23A2E">477</text><text x="230.4" y="503.7" font-family="Liberation Sans, sans-serif" font-size="11.3" text-anchor="middle" fill="#A23A2E">358</text><text x="298.7" y="503.7" font-family="Liberation Sans, sans-serif" font-size="11.3" text-anchor="middle" fill="#A23A2E">269</text><text x="367.1" y="503.7" font-family="Liberation Sans, sans-serif" font-size="11.3" text-anchor="middle" fill="#A23A2E">206</text><text x="435.4" y="503.7" font-family="Liberation Sans, sans-serif" font-size="11.3" text-anchor="middle" fill="#A23A2E">145</text><text x="503.7" y="503.7" font-family="Liberation Sans, sans-serif" font-size="11.3" text-anchor="middle" fill="#A23A2E">104</text><text x="572.0" y="503.7" font-family="Liberation Sans, sans-serif" font-size="11.3" text-anchor="middle" fill="#A23A2E">74</text><text x="640.3" y="503.7" font-family="Liberation Sans, sans-serif" font-size="11.3" text-anchor="middle" fill="#A23A2E">54</text><text x="47" y="521.9" font-family="Liberation Sans, sans-serif" font-size="14" text-anchor="middle" fill="#01665E">3</text><text x="93.8" y="520.9" font-family="Liberation Sans, sans-serif" font-size="11.3" text-anchor="middle" fill="#01665E">501</text><text x="128.0" y="520.9" font-family="Liberation Sans, sans-serif" font-size="11.3" text-anchor="middle" fill="#01665E">451</text><text x="162.1" y="520.9" font-family="Liberation Sans, sans-serif" font-size="11.3" text-anchor="middle" fill="#01665E">406</text><text x="230.4" y="520.9" font-family="Liberation Sans, sans-serif" font-size="11.3" text-anchor="middle" fill="#01665E">312</text><text x="298.7" y="520.9" font-family="Liberation Sans, sans-serif" font-size="11.3" text-anchor="middle" fill="#01665E">224</text><text x="367.1" y="520.9" font-family="Liberation Sans, sans-serif" font-size="11.3" text-anchor="middle" fill="#01665E">148</text><text x="435.4" y="520.9" font-family="Liberation Sans, sans-serif" font-size="11.3" text-anchor="middle" fill="#01665E">98</text><text x="503.7" y="520.9" font-family="Liberation Sans, sans-serif" font-size="11.3" text-anchor="middle" fill="#01665E">72</text><text x="572.0" y="520.9" font-family="Liberation Sans, sans-serif" font-size="11.3" text-anchor="middle" fill="#01665E">53</text><text x="640.3" y="520.9" font-family="Liberation Sans, sans-serif" font-size="11.3" text-anchor="middle" fill="#01665E">41</text><text x="47" y="539.1" font-family="Liberation Sans, sans-serif" font-size="14" text-anchor="middle" fill="#543005">4</text><text x="93.8" y="538.1" font-family="Liberation Sans, sans-serif" font-size="11.3" text-anchor="middle" fill="#543005">445</text><text x="128.0" y="538.1" font-family="Liberation Sans, sans-serif" font-size="11.3" text-anchor="middle" fill="#543005">402</text><text x="162.1" y="538.1" font-family="Liberation Sans, sans-serif" font-size="11.3" text-anchor="middle" fill="#543005">355</text><text x="230.4" y="538.1" font-family="Liberation Sans, sans-serif" font-size="11.3" text-anchor="middle" fill="#543005">291</text><text x="298.7" y="538.1" font-family="Liberation Sans, sans-serif" font-size="11.3" text-anchor="middle" fill="#543005">220</text><text x="367.1" y="538.1" font-family="Liberation Sans, sans-serif" font-size="11.3" text-anchor="middle" fill="#543005">162</text><text x="435.4" y="538.1" font-family="Liberation Sans, sans-serif" font-size="11.3" text-anchor="middle" fill="#543005">119</text><text x="503.7" y="538.1" font-family="Liberation Sans, sans-serif" font-size="11.3" text-anchor="middle" fill="#543005">101</text><text x="572.0" y="538.1" font-family="Liberation Sans, sans-serif" font-size="11.3" text-anchor="middle" fill="#543005">70</text><text x="640.3" y="538.1" font-family="Liberation Sans, sans-serif" font-size="11.3" text-anchor="middle" fill="#543005">60</text></g></svg></body></html>
